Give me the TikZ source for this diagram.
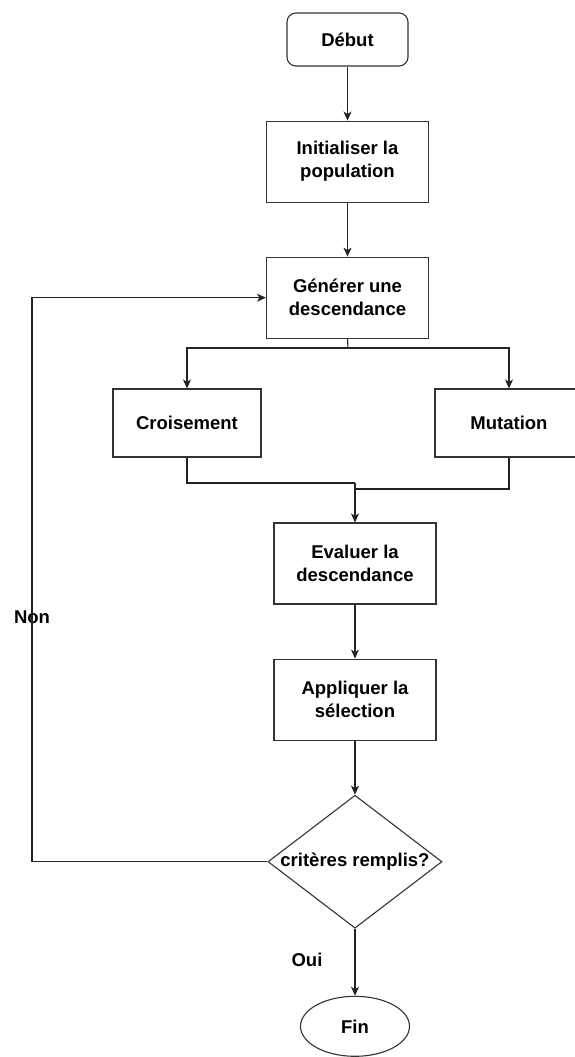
\documentclass[tikz,border=0pt]{standalone}
\usepackage{fontspec}
\setmainfont{Liberation Sans}
\usetikzlibrary{arrows.meta,positioning,shapes.geometric}
\definecolor{edge}{HTML}{333333}
\definecolor{wire}{HTML}{222222}

\begin{document}
\begin{tikzpicture}[x=1pt,y=-1pt,
  every node/.style={font=\bfseries\fontsize{18.5}{23}\selectfont},
  box/.style={draw=edge,line width=1.1pt,align=center,inner sep=0pt,minimum width=162pt,minimum height=81pt},
  op/.style={box,minimum width=148pt,minimum height=68pt},
  term/.style={box,rounded corners=9pt,minimum width=121pt,minimum height=53pt},
  test/.style={draw=edge,line width=1.1pt,diamond,aspect=1.31,inner sep=0pt,minimum width=174pt,minimum height=133pt},
  stop/.style={draw=edge,line width=1.1pt,ellipse,inner sep=0pt,minimum width=109pt,minimum height=60pt},
  flow/.style={-{Stealth[length=9pt,width=8pt,inset=2.5pt]},line width=1.1pt,draw=wire},
  link/.style={line width=1.1pt,draw=wire},
  tag/.style={inner sep=0pt}
]
\useasboundingbox (0,0) rectangle (574,1057);
\node[term] (debut) at (347.5,39.5) {Début};
\node[box,below=54pt of debut] (init) {Initialiser la\\population};
\node[box,below=54pt of init] (gen) {Générer une\\descendance};
\node[op] (crois) at (187,423) {Croisement};
\node[op] (mut) at (509,423) {Mutation};
\node[box] (eval) at (355,563.5) {Evaluer la\\descendance};
\node[box,below=54pt of eval] (sel) {Appliquer la\\sélection};
\node[test,below=54pt of sel] (crit) {critères remplis?};
\node[stop,below=67pt of crit] (fin) {Fin};
\node[tag] (non) at (32,617) {Non};
\node[tag] (oui) at (307,960) {Oui};
% split, join and loop points
\coordinate (split) at (348,348);
\coordinate (join) at (355,483);
\coordinate (join2) at (355,489);
\coordinate (back) at (crit.west -| non);
\draw[flow] (debut)--(init);
\draw[flow] (init)--(gen);
\draw[link] (gen.south)--(split);
\draw[flow] (split)-|(crois.north);
\draw[flow] (split)-|(mut.north);
\draw[link] (crois.south)|-(join);
\draw[link] (mut.south)|-(join2);
\draw[flow] (join)--(eval.north);
\draw[flow] (eval)--(sel);
\draw[flow] (sel)--(crit);
\draw[flow] (crit)--(fin);
\draw[flow] (crit.west)--(back)|-(gen.west);
\end{tikzpicture}
\end{document}
